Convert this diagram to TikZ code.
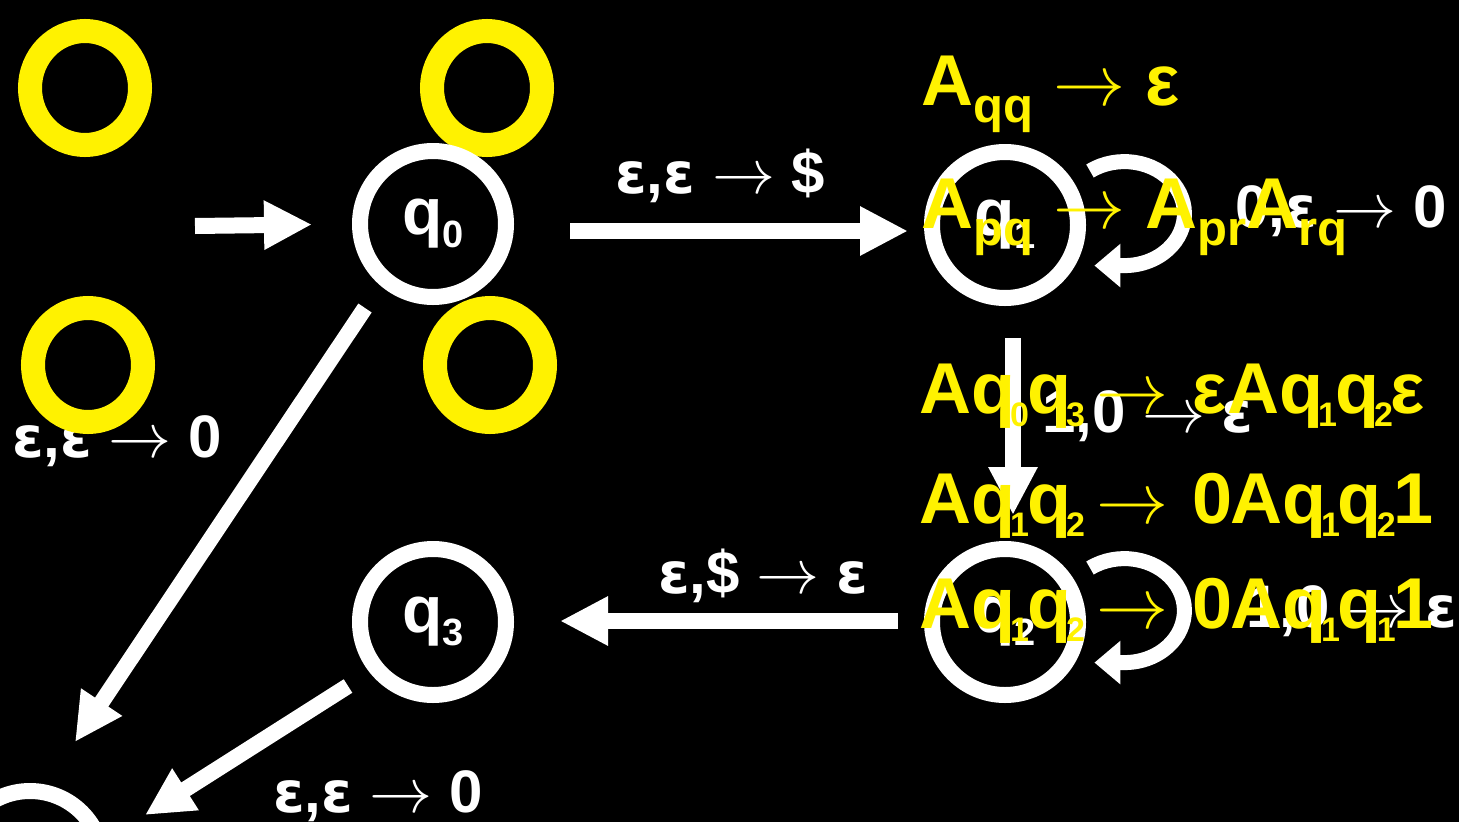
\documentclass[tikz,border=0pt]{standalone}
\usepackage{fontspec}
\usepackage{graphicx}
\setmainfont{Liberation Sans}
\newfontfamily\dvs{DejaVu Sans}
\usetikzlibrary{arrows.meta,calc,shapes.geometric}
\newcommand{\wsub}[1]{\raisebox{-13pt}{\fontsize{38}{38}\selectfont #1}}
\newcommand{\ysub}[1]{\kern-5pt\raisebox{-13pt}{\fontsize{34}{34}\selectfont #1}\kern-2pt}
\newcommand{\yls}[1]{\raisebox{-17pt}{\fontsize{49}{49}\selectfont #1}}
\newcommand{\war}{\scalebox{6.3}{\normalsize$\rightarrow$}}
\newcommand{\yar}{\scalebox{7.2}{\normalsize$\rightarrow$}}
\newcommand{\yarr}{\kern14pt\yar\kern4pt}
\newcommand{\we}{{\dvs\fontsize{57}{57}\selectfont ε}}
\tikzset{
  state/.style={circle, draw=white, line width=16pt, minimum size=146pt, inner sep=0pt, text=white, font=\fontsize{66}{66}\selectfont\bfseries},
  arr/.style={draw=white, line width=16pt, -{Triangle[length=48pt,width=46pt]}},
  looparr/.style={draw=white, line width=15pt, -{Triangle[length=26pt,width=42pt]}},
  wlab/.style={anchor=base west, inner sep=0pt, text=white, font=\fontsize{60}{60}\selectfont\bfseries},
  ylab/.style={anchor=base west, inner sep=0pt, text=yellow, font=\fontsize{72}{72}\selectfont\bfseries},
  ring/.style={ellipse, draw=yellow, line width=24pt, minimum width=110pt, minimum height=114pt, inner sep=0pt}
}
\begin{document}
\begin{tikzpicture}[x=1pt,y=-1pt]
\useasboundingbox (0,0) rectangle (1459,822);
\fill[black] (0,0) rectangle (1459,822);
% white edge labels
\node[wlab] (l1) at (615,193) {\we,\we{} \war{} \$};
\node[wlab] (l2) at (1235,227) {0,\we{} \war{} 0};
\node[wlab] (l3) at (12,457) {\we,\we{} \war{} 0};
\node[wlab] (l4) at (1042,432) {1,0 \war{} \we};
\node[wlab] (l5) at (658,593) {\we,\$ \war{} \we};
\node[wlab] (l6) at (1246,627) {1,0 \war{} \we};
\node[wlab] (l7) at (273,812) {\we,\we{} \war{} 0};
% yellow rings
\node[ring] (r1) at (85,88) {};
\node[ring] (r2) at (487,88) {};
\node[ring] (r3) at (88,365) {};
\node[ring] (r4) at (490,365) {};
% states
\node[state] (q0) at (433,224) {q\wsub{0}};
\node[state] (q1) at (1005,225) {q\wsub{1}};
\node[state] (q2) at (1005,622) {q\wsub{2}};
\node[state] (q3) at (433,622) {q\wsub{3}};
\node[state] (q4) at (30,864) {};
\coordinate (s) at (195,226);
% transitions
\draw[arr, shorten >=40pt] (s) -- (q0.west);
\draw[arr] ($(q0)+(137,7)$) -- ($(q1)+(-97,6)$);
\draw[arr] ($(q1)+(8,113)$) -- ($(q2)+(8,-107)$);
\draw[arr] ($(q2)+(-107,-1)$) -- ($(q3)+(127,-1)$);
\draw[arr] ($(q0)+(-68,84)$) -- ($(q4)+(45,-122)$);
\draw[arr] ($(q3)+(-85,64)$) -- ($(q4)+(115,-49)$);
\draw[looparr] ($(q1)+(85,-54)$) arc[start angle=125, end angle=-90, x radius=60pt, y radius=52pt] -- ++(-30,0);
\draw[looparr] ($(q2)+(85,-54)$) arc[start angle=125, end angle=-90, x radius=60pt, y radius=52pt] -- ++(-30,0);
% yellow grammar rules
\node[ylab] (y1) at (921,105) {A\yls{qq} \yar{} ε};
\node[ylab] (y2) at (921,228) {A\yls{pq} \yar{} A\yls{pr}A\yls{rq}};
\node[ylab] (y3) at (919,413) {Aq\ysub{0}q\ysub{3} \yarr{} εAq\ysub{1}q\ysub{2}ε};
\node[ylab] (y4) at (919,523) {Aq\ysub{1}q\ysub{2} \yarr{} 0\kern-3pt Aq\ysub{1}q\ysub{2}1};
\node[ylab] (y5) at (919,628) {Aq\ysub{1}q\ysub{2} \yarr{} 0\kern-3pt Aq\ysub{1}q\ysub{1}1};
\end{tikzpicture}
\end{document}
